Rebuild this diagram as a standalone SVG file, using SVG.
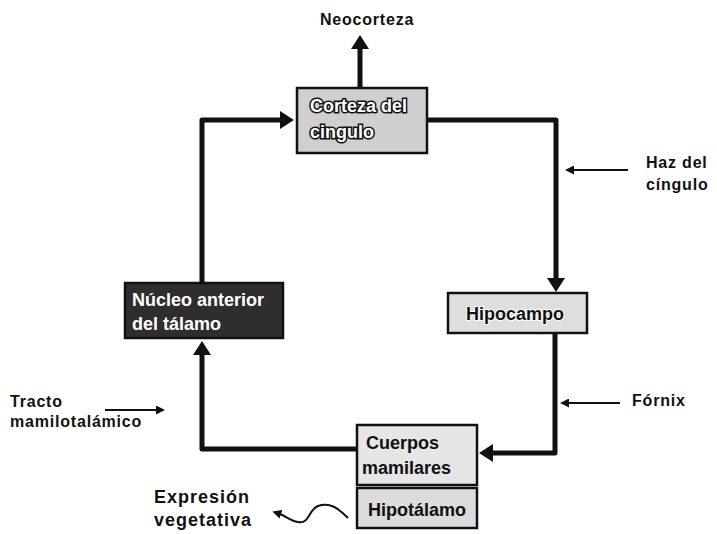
<svg xmlns="http://www.w3.org/2000/svg" width="717" height="534" viewBox="0 0 717 534">
<style>
.lbl{font-family:"Liberation Sans",Arial,sans-serif;font-weight:bold;font-size:16px;letter-spacing:0.8px;fill:#111}
.big{font-size:18px;letter-spacing:1px}
.bt{font-family:"Liberation Sans",Arial,sans-serif;font-weight:bold;font-size:18px}
.box{stroke:#111;stroke-width:2.5}
.main{fill:none;stroke:#111;stroke-width:5;stroke-linejoin:round}
.thin{fill:none;stroke:#111;stroke-width:2}
</style>
<defs>
<marker id="ah" markerUnits="userSpaceOnUse" markerWidth="16" markerHeight="18" refX="2" refY="9" orient="auto"><path d="M0,0 L14,9 L0,18 z" fill="#111"/></marker>
<marker id="sa" markerUnits="userSpaceOnUse" markerWidth="9" markerHeight="9" refX="1" refY="4.5" orient="auto"><path d="M0,0 L9,4.5 L0,9 z" fill="#111"/></marker>
</defs>
<rect width="717" height="534" fill="#fff"/>
<g id="connectors">
<path class="main" d="M202,283 V120 H282" marker-end="url(#ah)"/>
<path class="main" d="M427,120 H556 V280" marker-end="url(#ah)"/>
<path class="main" d="M555,334 V453 H491" marker-end="url(#ah)"/>
<path class="main" d="M357,449 H202 V353" marker-end="url(#ah)"/>
<path class="main" d="M360,88 V47" marker-end="url(#ah)"/>
<path class="thin" d="M628,170 H573" marker-end="url(#sa)"/>
<path class="thin" d="M620,403 H568" marker-end="url(#sa)"/>
<path class="thin" d="M105,410 H157" marker-end="url(#sa)"/>
<path class="thin" d="M348,518 C338,508 330,502 318,506 C308,510 310,524 298,522 C290,521 286,516 280,514" marker-end="url(#sa)"/>
</g>
<g id="corteza">
<rect class="box" x="297" y="88" width="130" height="65" fill="#cfcfcf"/>
<text class="bt" x="310" y="112" fill="#fff" stroke="#111" stroke-width="3" paint-order="stroke">Corteza del</text>
<text class="bt" x="310" y="138" fill="#fff" stroke="#111" stroke-width="3" paint-order="stroke">cingulo</text>
</g>
<g id="nucleo">
<rect class="box" x="125" y="283" width="158" height="55" fill="#2e2e2e"/>
<text class="bt" x="132" y="306" fill="#fff">Núcleo anterior</text>
<text class="bt" x="132" y="330" fill="#fff">del tálamo</text>
</g>
<g id="hipocampo">
<rect class="box" x="448" y="293" width="139" height="40" fill="#dedede"/>
<text class="bt" x="515" y="320" text-anchor="middle" fill="#111" stroke="#fff" stroke-width="2" paint-order="stroke">Hipocampo</text>
</g>
<g id="cuerpos">
<rect class="box" x="357" y="425" width="120" height="60" fill="#e6e6e6"/>
<text class="bt" x="366" y="449" fill="#111">Cuerpos</text>
<text class="bt" x="362" y="474" fill="#111">mamilares</text>
</g>
<g id="hipotalamo">
<rect class="box" x="357" y="488" width="120" height="40" fill="#dcdcdc"/>
<text class="bt" x="417" y="516" text-anchor="middle" fill="#111">Hipotálamo</text>
</g>
<g id="labels">
<text class="lbl" x="367" y="25" text-anchor="middle">Neocorteza</text>
<text class="lbl" x="646" y="168">Haz del</text>
<text class="lbl" x="646" y="190">cíngulo</text>
<text class="lbl" x="632" y="406">Fórnix</text>
<text class="lbl" x="10" y="407">Tracto</text>
<text class="lbl" x="10" y="427">mamilotalámico</text>
<text class="lbl big" x="154" y="503">Expresión</text>
<text class="lbl big" x="154" y="526">vegetativa</text>
</g>
</svg>
